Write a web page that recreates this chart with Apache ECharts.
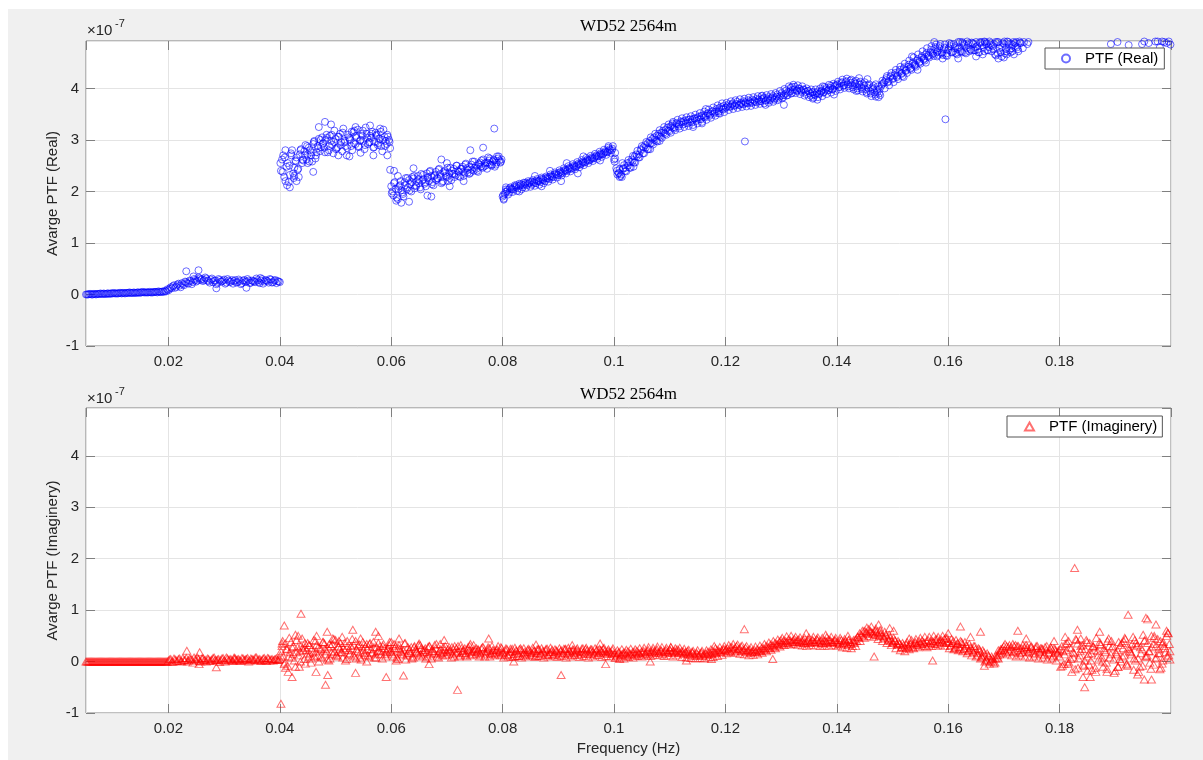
<!DOCTYPE html>
<html><head><meta charset="utf-8">
<script src="https://cdn.jsdelivr.net/npm/echarts@6/dist/echarts.min.js"></script>
<style>
html,body{margin:0;padding:0;background:#fff;}
#bg{position:absolute;left:8px;top:9px;width:1195px;height:751px;background:#f0f0f0;}
#chart{position:absolute;left:0;top:0;width:1203px;height:760px;}
</style>
</head><body><div id="bg"></div><div id="chart"></div>
<script>
// ---------------- data (values in units of 1e-7) ----------------
const STEP = 0.0004;           // frequency bin spacing (Hz)
const X_MIN = 0.0052, X_MAX = 0.2;
const Y_MIN = -1, Y_MAX_TOP = 4.92, Y_MAX_BOT = 4.93;
const yTickLabels = ['-1','0','1','2','3','4'];
const xTickLabels = ['0.02','0.04','0.06','0.08','0.1','0.12','0.14','0.16','0.18'];

const chunkStarts  = [0.0052, 0.0200, 0.0400, 0.0600, 0.0800, 0.1000, 0.1200, 0.1400, 0.1600, 0.1800];
const chunkStartsB = [0.0054, 0.0202, 0.0402, 0.0602, 0.0802, 0.1002, 0.1202, 0.1402, 0.1602, 0.1802];
const chunkStartsC = [0.0401, 0.0601, 0.0801, 0.1001, 0.1201, 0.1401, 0.1601, 0.1801];

// Real part, one array per frequency chunk (grid A)
const real005 = [0.00,0.00,0.01,0.00,0.01,0.01,0.01,0.01,0.02,0.01,0.02,0.02,0.02,0.02,0.02,0.03,0.02,0.03,0.03,0.03,0.03,0.03,0.03,0.04,0.03,0.04,0.04,0.04,0.04,0.04,0.04,0.05,0.04,0.05,0.05,0.05,0.06];
const real020 = [0.08,0.14,0.16,0.13,0.19,0.17,0.22,0.18,0.24,0.21,0.26,0.24,0.28,0.27,0.31,0.30,0.28,0.31,0.26,0.29,0.24,0.27,0.22,0.28,0.25,0.29,0.23,0.27,0.25,0.21,0.28,0.24,0.26,0.22,0.28,0.25,0.27,0.23,0.26,0.24,0.28,0.22,0.30,0.25,0.27,0.23,0.29,0.24,0.28,0.26];
const real040 = [0.24,2.62,2.28,2.48,2.18,2.74,2.35,2.60,2.42,2.72,2.55,2.78,2.62,2.85,2.70,2.92,2.64,2.88,2.78,3.05,2.85,3.10,2.80,2.98,2.74,3.02,2.86,3.12,2.78,2.95,2.70,3.05,2.88,3.15,2.92,3.20,2.98,3.08,2.82,3.12,2.95,3.04,2.85,3.14,2.90,3.02,2.78,3.06,2.92,3.00];
const real060 = [2.10,1.92,2.05,1.85,2.12,1.98,2.18,2.04,2.22,2.00,2.25,2.12,2.30,2.08,2.22,2.15,2.35,2.20,2.30,2.12,2.38,2.25,2.34,2.18,2.40,2.28,2.36,2.22,2.44,2.32,2.40,2.28,2.48,2.36,2.45,2.34,2.52,2.40,2.50,2.38,2.56,2.46,2.54,2.44,2.60,2.50,2.62,2.52,2.64,2.56];
const real080 = [1.90,1.95,2.00,1.98,2.05,2.04,2.08,2.06,2.12,2.08,2.14,2.12,2.16,2.13,2.18,2.16,2.20,2.18,2.24,2.20,2.26,2.24,2.30,2.28,2.34,2.32,2.38,2.36,2.42,2.40,2.46,2.44,2.50,2.48,2.54,2.52,2.58,2.56,2.62,2.60,2.66,2.64,2.70,2.68,2.74,2.72,2.78,2.76,2.82,2.80];
const real100 = [2.62,2.45,2.36,2.30,2.44,2.40,2.55,2.46,2.62,2.56,2.72,2.66,2.82,2.74,2.90,2.82,2.98,2.94,3.05,2.98,3.12,3.06,3.18,3.12,3.24,3.17,3.28,3.22,3.33,3.26,3.36,3.30,3.38,3.32,3.40,3.34,3.42,3.37,3.45,3.40,3.48,3.44,3.52,3.47,3.56,3.51,3.60,3.55,3.64,3.59];
const real120 = [3.62,3.66,3.64,3.69,3.66,3.70,3.68,3.72,3.69,3.73,3.71,3.75,3.72,3.76,3.73,3.78,3.75,3.80,3.76,3.79,3.77,3.82,3.78,3.84,3.80,3.86,3.83,3.90,3.87,3.94,3.91,3.98,3.95,4.00,3.96,3.98,3.93,3.95,3.90,3.92,3.88,3.91,3.89,3.94,3.92,3.98,3.96,4.01,3.98,4.04];
const real140 = [4.06,4.02,4.10,4.05,4.12,4.08,4.15,4.06,4.12,4.04,4.10,4.02,4.08,3.98,4.06,3.94,4.02,3.92,3.98,3.90,4.05,4.10,4.16,4.12,4.22,4.18,4.26,4.22,4.32,4.28,4.38,4.34,4.42,4.38,4.48,4.44,4.54,4.50,4.60,4.56,4.66,4.62,4.70,4.66,4.76,4.70,4.78,4.68,4.76,4.64];
const real160 = [4.74,4.82,4.70,4.78,4.66,4.80,4.72,4.86,4.68,4.84,4.76,4.88,4.74,4.82,4.70,4.90,4.80,4.86,4.74,4.88,4.82,4.66,4.90,4.78,4.62,4.86,4.76,4.90,4.70,4.84,4.88,4.80,4.91,null,4.90,null,4.90,null,null,null,null,null,null,null,null,null,null,null,null,null];
const real180 = [null,null,null,null,null,null,null,null,null,null,null,null,null,null,null,null,null,null,null,null,null,null,null,4.86,null,null,4.90,null,null,null,null,4.84,null,null,null,null,null,4.86,4.91,null,null,null,null,4.91,4.91,null,4.91,4.90,4.88,4.91];

// Real part, interleaved bins (grid B, offset by half a step)
const real005b = [0.00,0.01,0.00,0.01,0.00,0.01,0.02,0.01,0.01,0.02,0.01,0.02,0.03,0.02,0.02,0.03,0.03,0.02,0.03,0.04,0.03,0.04,0.03,0.04,0.04,0.05,0.04,0.04,0.05,0.04,0.05,0.05,0.06,0.05,0.06,0.07,0.10];
const real020b = [0.11,0.12,0.18,0.15,0.21,0.14,0.20,0.25,0.22,0.27,0.20,0.30,0.25,0.33,0.28,0.26,0.33,0.27,0.23,0.31,0.27,0.20,0.30,0.25,0.27,0.21,0.30,0.24,0.28,0.26,0.23,0.29,0.20,0.27,0.24,0.30,0.22,0.27,0.25,0.31,0.24,0.27,0.21,0.28,0.26,0.30,0.23,0.27,0.22,0.25];
const real040b = [2.40,2.70,2.20,2.55,2.32,2.80,2.46,2.66,2.28,2.82,2.60,2.90,2.72,2.80,2.58,2.98,2.76,3.02,2.86,2.94,3.00,2.76,3.08,2.90,3.18,2.84,3.06,2.96,3.22,2.88,3.10,3.00,2.80,3.18,3.04,2.86,3.12,2.98,3.24,2.92,3.08,3.16,2.96,3.10,3.02,2.88,3.20,2.98,3.06,2.84];
const real060b = [2.00,2.18,1.88,2.10,2.02,1.90,2.26,2.08,2.14,2.28,2.06,2.20,2.16,2.34,2.24,2.10,2.28,2.40,2.18,2.32,2.26,2.44,2.16,2.38,2.30,2.20,2.46,2.34,2.28,2.50,2.38,2.44,2.30,2.54,2.42,2.36,2.58,2.46,2.40,2.52,2.60,2.48,2.56,2.66,2.52,2.58,2.48,2.68,2.60,2.62];
const real080b = [1.86,2.04,1.94,2.08,1.99,2.12,2.01,2.15,2.04,2.17,2.07,2.20,2.09,2.22,2.11,2.24,2.13,2.27,2.16,2.29,2.19,2.33,2.23,2.37,2.27,2.41,2.31,2.45,2.35,2.49,2.39,2.53,2.43,2.57,2.47,2.61,2.51,2.65,2.55,2.69,2.59,2.73,2.63,2.77,2.67,2.81,2.71,2.85,2.75,2.88];
const real100b = [2.64,2.33,2.43,2.28,2.51,2.39,2.61,2.46,2.69,2.56,2.79,2.66,2.88,2.74,2.96,2.82,3.05,2.91,3.12,2.97,3.19,3.04,3.25,3.10,3.30,3.14,3.35,3.19,3.39,3.22,3.42,3.25,3.44,3.27,3.46,3.29,3.49,3.32,3.52,3.35,3.55,3.39,3.59,3.43,3.63,3.47,3.67,3.51,3.71,3.54];
const real120b = [3.72,3.58,3.75,3.60,3.77,3.62,3.79,3.64,3.80,3.65,3.82,3.66,3.83,3.68,3.85,3.70,3.86,3.71,3.87,3.72,3.89,3.74,3.91,3.77,3.95,3.81,3.99,3.86,4.04,3.90,4.07,3.91,4.06,3.89,4.04,3.86,4.00,3.83,3.98,3.82,3.98,3.83,4.00,3.85,4.03,3.89,4.07,3.92,4.09,3.95];
const real140b = [4.13,3.98,4.17,4.01,4.19,4.00,4.17,3.98,4.15,3.96,4.13,3.94,4.12,3.90,4.08,3.85,4.05,3.84,4.04,3.87,4.15,4.00,4.24,4.06,4.30,4.12,4.36,4.18,4.42,4.24,4.48,4.30,4.54,4.36,4.60,4.42,4.66,4.48,4.72,4.54,4.78,4.60,4.82,4.63,4.85,4.65,4.86,4.65,4.85,4.63];
const real160b = [4.88,4.70,4.86,4.68,4.90,4.72,4.88,4.70,4.91,4.72,4.89,4.74,4.90,4.70,4.88,4.66,4.90,4.74,4.91,4.72,4.86,4.64,4.90,4.70,4.88,4.68,4.91,4.74,4.86,4.66,4.90,4.72,4.88,4.78,null,4.86,null,null,null,null,null,null,null,null,null,null,null,null,null,null];

// Real part, third interleave (grid C, offset by a quarter step)
const real040c = [2.55,2.38,2.66,2.12,2.50,2.70,2.26,2.58,2.44,2.80,2.62,2.70,2.88,2.58,2.76,2.96,2.70,2.84,3.00,2.92,2.76,3.04,2.88,3.10,2.96,2.82,3.06,2.90,3.14,2.98,2.84,3.02,3.16,2.94,3.08,2.88,3.00,3.18,2.90,3.04,2.96,3.12,2.86,3.08,2.94,3.16,3.00,2.88,3.10,2.96];
const real060c = [1.96,2.16,1.82,2.04,2.20,1.95,2.12,2.26,2.02,2.18,2.30,2.10,2.24,2.04,2.32,2.18,2.26,2.38,2.14,2.30,2.22,2.42,2.28,2.20,2.36,2.46,2.26,2.40,2.34,2.50,2.30,2.44,2.38,2.52,2.36,2.48,2.42,2.58,2.44,2.54,2.48,2.62,2.50,2.56,2.64,2.52,2.60,2.56,2.68,2.58];
const real080c = [1.93,1.99,2.03,2.06,2.04,2.09,2.12,2.10,2.14,2.12,2.17,2.15,2.18,2.19,2.16,2.21,2.20,2.24,2.22,2.26,2.25,2.29,2.28,2.33,2.32,2.36,2.35,2.39,2.40,2.43,2.44,2.46,2.48,2.50,2.52,2.54,2.56,2.58,2.60,2.62,2.64,2.66,2.68,2.70,2.72,2.74,2.76,2.78,2.80,2.83];
const real100c = [2.58,2.40,2.35,2.33,2.45,2.46,2.50,2.57,2.58,2.68,2.68,2.72,2.80,2.86,2.85,2.94,2.93,3.02,3.00,3.08,3.08,3.14,3.14,3.20,3.18,3.26,3.24,3.25,3.31,3.30,3.34,3.36,3.33,3.39,3.35,3.40,3.41,3.43,3.40,3.47,3.45,3.47,3.51,3.50,3.55,3.54,3.56,3.62,3.60,3.66];
const real120c = [3.63,3.69,3.65,3.71,3.67,3.74,3.68,3.70,3.75,3.71,3.77,3.72,3.78,3.74,3.80,3.75,3.79,3.82,3.77,3.83,3.80,3.85,3.81,3.88,3.84,3.91,3.87,3.96,3.93,4.01,3.97,4.03,3.96,3.99,3.93,3.97,3.89,3.95,3.86,3.93,3.87,3.94,3.90,3.96,3.93,4.01,3.97,4.05,3.99,4.06];
const real140c = [4.08,4.03,4.12,4.06,4.14,4.04,4.11,4.02,4.09,4.00,4.07,3.99,4.05,3.93,4.00,3.90,3.99,3.88,3.93,3.99,4.08,4.12,4.20,4.14,4.25,4.20,4.30,4.25,4.36,4.30,4.41,4.36,4.46,4.40,4.51,4.46,4.57,4.52,4.63,4.58,4.69,4.64,4.75,4.68,4.80,4.72,4.82,4.70,4.79,4.68];
const real160c = [4.78,4.86,4.72,4.82,4.76,4.90,4.70,4.84,4.78,4.88,4.74,4.86,4.80,4.76,4.90,4.84,4.72,4.88,4.80,4.84,4.76,4.90,4.68,4.84,4.80,4.91,4.72,4.86,4.78,4.90,4.82,4.76,4.88];

const realExtraFreq = [0.0232,0.0254,0.0286,0.0340,0.0365,0.0245,0.0418,0.0426,0.0460,0.0470,0.0481,0.0492,0.0536,0.0562,0.0580,0.0593,0.0598,0.0410,0.0430,0.0450,0.0505,0.0525,0.0545,0.0568,0.0605,0.0612,0.0618,0.0632,0.0640,0.0665,0.0672,0.0690,0.0705,0.0742,0.0765,0.0785,0.0700,0.0730,0.0802,0.0806,0.0830,0.0858,0.0870,0.0885,0.0905,0.0915,0.0935,0.0945,0.0975,0.0990,0.1002,0.1010,0.1015,0.1035,0.1065,0.1082,0.1105,0.1142,0.1158,0.1165,0.1188,0.1235,0.1305,0.1357,0.1365,0.1395,0.1375,0.1320,0.1265,0.1272,0.1475,0.1470,0.1455,0.1440,0.1520,0.1545,0.1535,0.1560,0.1575,0.1580,0.1595,0.1590,0.1435,0.1618,0.1650,0.1690,0.1700,0.1705,0.1715,0.1625,0.1665,0.1999,0.1980,0.1960];
const realExtraVal  = [0.45,0.47,0.12,0.13,0.32,0.35,2.08,2.30,2.38,3.25,3.35,3.30,3.25,3.28,3.22,2.70,2.42,2.80,2.20,2.55,2.70,2.68,2.75,2.70,2.40,2.30,1.78,1.80,2.45,1.92,1.90,2.62,2.10,2.80,2.85,3.22,2.55,2.20,1.84,2.08,2.00,2.30,2.10,2.40,2.20,2.55,2.35,2.68,2.60,2.88,2.75,2.28,2.55,2.48,2.82,2.98,3.32,3.25,3.32,3.60,3.52,2.97,3.68,3.80,3.78,3.88,4.04,4.03,3.85,3.68,3.83,4.08,4.18,4.20,4.22,4.36,4.62,4.50,4.90,4.62,3.40,4.58,3.95,4.58,4.62,4.58,4.60,4.66,4.72,4.90,4.91,4.85,4.80,4.88];

// Imaginary part (grid A)
const imag005 = [0,0,0,0,0,0,0,0,0,0,0,0,0,0,0,0,0,0,0,0,0,0,0,0,0,0,0,0,0,0,0,0,0,0,0,0,0];
const imag020 = [0.02,0.05,-0.01,0.04,0.01,0.06,0.00,0.03,0.07,0.02,0.05,-0.02,0.04,0.08,0.01,0.06,0.03,0.00,0.05,0.02,0.07,0.03,0.04,-0.01,0.06,0.02,0.08,0.03,0.05,0.01,0.06,0.04,0.02,0.07,0.03,0.05,0.00,0.06,0.04,0.08,0.02,0.05,0.03,0.07,0.01,0.06,0.04,0.02,0.05,0.03];
const imag040 = [0.05,0.30,-0.05,0.25,0.10,0.38,0.15,-0.10,0.28,0.20,0.45,0.05,0.22,0.32,-0.02,0.18,0.40,0.12,0.26,0.08,0.35,0.20,0.02,0.30,0.15,0.42,0.10,0.25,0.18,0.36,0.05,0.22,0.30,0.12,0.40,0.20,0.08,0.28,0.16,0.34,0.10,0.24,0.38,0.14,0.20,0.30,0.06,0.26,0.18,0.32];
const imag060 = [0.22,0.10,0.30,0.05,0.25,0.15,0.35,0.12,0.20,0.28,0.08,0.24,0.16,0.32,0.10,0.22,0.18,0.30,0.06,0.20,0.26,0.14,0.34,0.12,0.22,0.18,0.28,0.08,0.24,0.16,0.30,0.12,0.20,0.26,0.10,0.22,0.18,0.32,0.14,0.24,0.16,0.28,0.10,0.20,0.26,0.14,0.22,0.18,0.30,0.12];
const imag080 = [0.18,0.12,0.24,0.15,0.20,0.10,0.22,0.16,0.26,0.12,0.19,0.14,0.23,0.17,0.20,0.11,0.24,0.16,0.21,0.13,0.25,0.15,0.19,0.12,0.22,0.17,0.20,0.14,0.24,0.16,0.21,0.13,0.23,0.18,0.20,0.15,0.26,0.16,0.22,0.14,0.24,0.17,0.20,0.13,0.22,0.18,0.21,0.15,0.19,0.16];
const imag100 = [0.14,0.10,0.17,0.12,0.15,0.18,0.11,0.16,0.13,0.19,0.14,0.17,0.12,0.18,0.15,0.20,0.14,0.18,0.16,0.21,0.17,0.22,0.15,0.20,0.18,0.23,0.17,0.21,0.19,0.22,0.16,0.20,0.18,0.21,0.15,0.19,0.14,0.17,0.12,0.16,0.11,0.15,0.13,0.17,0.14,0.19,0.16,0.21,0.18,0.23];
const imag120 = [0.22,0.26,0.20,0.28,0.24,0.30,0.25,0.29,0.22,0.27,0.21,0.24,0.19,0.23,0.18,0.22,0.20,0.26,0.23,0.29,0.26,0.32,0.28,0.34,0.31,0.37,0.33,0.40,0.36,0.42,0.38,0.44,0.39,0.43,0.37,0.41,0.35,0.40,0.36,0.42,0.38,0.44,0.37,0.41,0.35,0.40,0.36,0.42,0.38,0.41];
const imag140 = [0.38,0.34,0.42,0.36,0.40,0.32,0.38,0.30,0.36,0.40,0.46,0.52,0.48,0.58,0.54,0.60,0.56,0.52,0.58,0.50,0.55,0.48,0.52,0.44,0.46,0.38,0.42,0.34,0.36,0.28,0.32,0.26,0.30,0.34,0.28,0.36,0.32,0.40,0.34,0.38,0.30,0.42,0.36,0.40,0.34,0.44,0.38,0.42,0.36,0.46];
const imag160 = [0.40,0.30,0.36,0.26,0.34,0.28,0.38,0.24,0.32,0.20,0.28,0.22,0.30,0.16,0.24,0.10,0.18,0.04,0.12,0.00,0.06,-0.02,0.08,0.14,0.22,0.30,0.18,0.28,0.24,0.34,0.20,0.30,0.16,0.26,0.22,0.32,0.18,0.28,0.24,0.14,0.30,0.20,0.26,0.12,0.22,0.18,0.28,0.10,0.24,0.16];
const imag180 = [0.10,0.30,-0.05,0.22,0.40,0.05,0.18,-0.15,0.35,0.12,0.25,-0.08,0.42,0.15,0.02,0.30,-0.12,0.20,0.38,0.08,0.26,-0.02,0.45,0.14,0.30,-0.18,0.22,0.05,0.36,0.12,-0.06,0.28,0.18,0.48,0.02,0.32,-0.10,0.24,0.40,0.10,0.20,-0.14,0.34,0.06,0.44,0.16,-0.04,0.30,0.50,0.12];

// Imaginary part (grid B)
const imag005b = [0,0,0,0,0,0,0,0,0,0,0,0,0,0,0,0,0,0,0,0,0,0,0,0,0,0,0,0,0,0,0,0,0,0,0,0,0];
const imag020b = [0.04,0.00,0.06,0.02,0.05,0.01,0.07,0.03,0.00,0.06,0.04,0.08,0.02,0.05,0.00,0.07,0.03,0.06,0.01,0.04,0.08,0.02,0.05,0.03,0.07,0.00,0.06,0.04,0.02,0.08,0.03,0.05,0.01,0.06,0.04,0.07,0.02,0.05,0.03,0.08,0.04,0.01,0.06,0.03,0.07,0.02,0.05,0.04,0.06,0.03];
const imag040b = [0.20,0.10,0.35,-0.08,0.18,0.28,0.02,0.42,0.12,0.30,0.22,-0.04,0.36,0.16,0.26,0.10,0.32,0.00,0.24,0.38,0.14,0.28,0.06,0.34,0.20,0.12,0.40,0.18,0.26,0.02,0.30,0.16,0.44,0.10,0.24,0.34,0.04,0.22,0.30,0.12,0.36,0.18,0.08,0.28,0.22,0.14,0.34,0.10,0.26,0.20];
const imag060b = [0.14,0.26,0.08,0.32,0.18,0.22,0.04,0.28,0.16,0.10,0.30,0.20,0.12,0.26,0.18,0.06,0.28,0.14,0.24,0.32,0.10,0.20,0.16,0.28,0.12,0.24,0.20,0.14,0.30,0.18,0.10,0.26,0.22,0.16,0.28,0.12,0.20,0.24,0.18,0.10,0.26,0.20,0.14,0.28,0.16,0.22,0.12,0.24,0.20,0.26];
const imag080b = [0.08,0.26,0.10,0.25,0.09,0.27,0.11,0.24,0.08,0.26,0.10,0.25,0.12,0.27,0.09,0.24,0.11,0.26,0.08,0.25,0.10,0.27,0.12,0.24,0.09,0.26,0.11,0.25,0.08,0.27,0.10,0.24,0.12,0.26,0.09,0.25,0.11,0.27,0.08,0.24,0.10,0.26,0.12,0.25,0.09,0.27,0.11,0.24,0.10,0.26];
const imag100b = [0.07,0.22,0.08,0.24,0.06,0.23,0.09,0.25,0.08,0.24,0.11,0.26,0.10,0.27,0.12,0.28,0.11,0.27,0.13,0.29,0.12,0.28,0.11,0.27,0.12,0.28,0.10,0.26,0.12,0.27,0.09,0.25,0.08,0.23,0.07,0.21,0.06,0.22,0.07,0.21,0.06,0.22,0.08,0.24,0.09,0.26,0.11,0.28,0.13,0.30];
const imag120b = [0.16,0.32,0.18,0.34,0.17,0.33,0.15,0.31,0.14,0.30,0.12,0.28,0.13,0.29,0.14,0.31,0.17,0.34,0.20,0.37,0.23,0.40,0.26,0.43,0.29,0.46,0.32,0.49,0.33,0.50,0.34,0.48,0.32,0.47,0.31,0.46,0.30,0.47,0.32,0.48,0.31,0.47,0.30,0.46,0.31,0.47,0.30,0.48,0.32,0.46];
const imag140b = [0.30,0.46,0.28,0.44,0.27,0.43,0.26,0.42,0.30,0.48,0.40,0.60,0.46,0.66,0.50,0.68,0.48,0.64,0.44,0.62,0.40,0.58,0.36,0.52,0.32,0.46,0.26,0.40,0.22,0.36,0.20,0.38,0.24,0.42,0.26,0.44,0.28,0.46,0.30,0.48,0.28,0.48,0.30,0.50,0.30,0.48,0.32,0.50,0.30,0.46];
const imag160b = [0.26,0.44,0.24,0.42,0.22,0.40,0.20,0.38,0.16,0.34,0.12,0.30,0.10,0.26,0.06,0.22,0.00,0.16,-0.04,0.10,-0.04,0.12,0.06,0.24,0.16,0.34,0.14,0.32,0.12,0.30,0.10,0.30,0.12,0.32,0.10,0.28,0.08,0.28,0.10,0.30,0.06,0.26,0.08,0.28,0.04,0.24,0.06,0.26,0.02,0.22];
const imag180b = [-0.10,0.20,0.34,0.00,0.28,-0.20,0.16,0.42,0.06,0.30,-0.06,0.24,0.10,0.36,-0.16,0.22,0.46,0.04,0.32,-0.10,0.18,0.40,0.08,0.28,-0.22,0.14,0.38,0.00,0.26,0.44,-0.08,0.20,0.34,0.06,0.30,-0.20,0.16,0.52,0.10,0.36,-0.02,0.28,0.46,0.08,0.24,-0.12,0.38,0.18,0.56,0.04];

// Imaginary part (grid C)
const imag040c = [0.12,0.40,-0.02,0.24,0.46,0.08,0.30,0.18,0.50,0.00,0.26,0.36,0.14,0.32,0.06,0.42,0.20,0.28,0.10,0.38,0.24,0.04,0.34,0.18,0.44,0.12,0.28,0.36,0.08,0.22,0.40,0.14,0.26,0.32,0.06,0.30,0.18,0.38,0.12,0.24,0.34,0.16,0.28,0.08,0.36,0.20,0.30,0.14,0.24,0.38];
const imag060c = [0.18,0.34,0.02,0.26,0.20,0.12,0.36,0.16,0.24,0.06,0.28,0.18,0.32,0.14,0.22,0.26,0.10,0.30,0.20,0.16,0.34,0.08,0.24,0.18,0.30,0.14,0.22,0.28,0.10,0.26,0.20,0.32,0.16,0.12,0.24,0.30,0.14,0.20,0.26,0.22,0.12,0.28,0.18,0.24,0.10,0.30,0.16,0.22,0.14,0.28];
const imag080c = [0.16,0.22,0.13,0.19,0.25,0.15,0.20,0.11,0.23,0.17,0.14,0.22,0.18,0.12,0.21,0.16,0.24,0.14,0.19,0.22,0.13,0.18,0.23,0.15,0.20,0.12,0.22,0.17,0.25,0.14,0.19,0.21,0.16,0.23,0.13,0.20,0.18,0.24,0.15,0.21,0.19,0.14,0.23,0.17,0.20,0.25,0.16,0.21,0.18,0.22];
const imag100c = [0.16,0.12,0.19,0.14,0.17,0.13,0.20,0.15,0.18,0.14,0.21,0.16,0.19,0.21,0.17,0.23,0.19,0.22,0.20,0.24,0.18,0.21,0.19,0.23,0.17,0.22,0.20,0.18,0.24,0.17,0.20,0.15,0.18,0.16,0.13,0.17,0.11,0.15,0.13,0.18,0.14,0.16,0.19,0.15,0.21,0.17,0.23,0.19,0.22,0.25];
const imag120c = [0.24,0.20,0.28,0.23,0.27,0.21,0.25,0.20,0.23,0.18,0.22,0.17,0.21,0.19,0.24,0.21,0.27,0.24,0.30,0.27,0.33,0.30,0.36,0.33,0.39,0.35,0.41,0.37,0.43,0.39,0.41,0.37,0.42,0.38,0.40,0.36,0.39,0.43,0.38,0.41,0.37,0.42,0.39,0.36,0.41,0.38,0.43,0.39,0.37,0.42];
const imag140c = [0.36,0.41,0.33,0.39,0.35,0.42,0.34,0.38,0.43,0.48,0.55,0.50,0.60,0.56,0.63,0.58,0.54,0.60,0.52,0.57,0.50,0.46,0.50,0.42,0.40,0.36,0.40,0.32,0.34,0.29,0.27,0.33,0.28,0.36,0.31,0.38,0.33,0.36,0.41,0.35,0.39,0.33,0.40,0.37,0.43,0.35,0.41,0.39,0.44,0.38];
const imag160c = [0.36,0.32,0.40,0.28,0.36,0.24,0.34,0.26,0.30,0.22,0.26,0.18,0.24,0.12,0.20,0.08,0.12,0.02,0.10,0.04,0.00,0.06,0.12,0.20,0.26,0.22,0.30,0.20,0.28,0.18,0.32,0.22,0.26,0.18,0.28,0.24,0.20,0.30,0.16,0.26,0.22,0.18,0.24,0.14,0.30,0.16,0.26,0.12,0.20,0.18];
const imag180c = [0.24,-0.08,0.14,0.36,-0.02,0.26,0.08,0.44,-0.12,0.20,0.32,0.02,0.38,-0.06,0.16,0.28,-0.20,0.12,0.34,0.00,0.22,-0.14,0.30,0.40,0.04,0.18,-0.10,0.32,0.10,0.46,-0.04,0.24,0.14,-0.16,0.36,0.06,0.28,-0.08,0.42,0.12,0.20,0.50,-0.06,0.30,0.16,0.40,0.02,0.26,0.10,0.34];

const imagExtraFreq = [0.0233,0.0256,0.0286,0.0255,0.0318,0.0402,0.0408,0.0410,0.0404,0.0415,0.0422,0.0428,0.0435,0.0438,0.0445,0.0452,0.0465,0.0466,0.0482,0.0485,0.0486,0.0495,0.0505,0.0512,0.0531,0.0536,0.0545,0.0556,0.0572,0.0577,0.0591,0.0600,0.0614,0.0622,0.0650,0.0668,0.0695,0.0719,0.0742,0.0775,0.0820,0.0860,0.0905,0.0925,0.0975,0.0985,0.1010,0.1065,0.1102,0.1130,0.1175,0.1180,0.1234,0.1285,0.1300,0.1345,0.1380,0.1420,0.1467,0.1475,0.1495,0.1502,0.1530,0.1572,0.1600,0.1622,0.1640,0.1658,0.1665,0.1690,0.1725,0.1740,0.1755,0.1790,0.1810,0.1815,0.1827,0.1832,0.1838,0.1842,0.1845,0.1850,0.1855,0.1860,0.1872,0.1885,0.1905,0.1915,0.1923,0.1935,0.1940,0.1952,0.1955,0.1958,0.1965,0.1970,0.1973,0.1980,0.1985,0.1992,0.1995,0.1998];
const imagExtraVal  = [0.21,0.18,-0.11,-0.05,0.06,-0.82,0.70,-0.12,0.35,-0.20,-0.30,0.52,-0.10,0.93,0.28,0.10,-0.20,0.50,-0.45,0.58,-0.26,0.45,0.30,0.48,0.62,-0.22,0.45,0.00,0.58,0.50,-0.30,0.38,0.45,-0.27,0.35,-0.05,0.42,-0.55,0.34,0.45,0.00,0.33,-0.26,0.32,0.35,-0.05,0.05,0.00,0.28,0.02,0.05,0.30,0.63,0.05,0.42,0.55,0.52,0.50,0.10,0.72,0.65,0.60,0.45,0.02,0.55,0.68,0.48,0.58,-0.08,0.22,0.60,0.45,-1.02,0.40,0.48,-0.05,1.82,0.62,0.45,-0.30,-0.50,-0.18,-0.30,0.30,0.58,-0.20,-0.10,0.40,0.91,0.42,-0.25,-0.35,0.85,0.82,-0.35,0.50,0.72,-0.15,0.35,0.60,0.55,0.20];

const realChunks  = [real005, real020, real040, real060, real080, real100, real120, real140, real160, real180];
const realChunksB = [real005b, real020b, real040b, real060b, real080b, real100b, real120b, real140b, real160b];
const realChunksC = [real040c, real060c, real080c, real100c, real120c, real140c, real160c];
const imagChunks  = [imag005, imag020, imag040, imag060, imag080, imag100, imag120, imag140, imag160, imag180];
const imagChunksB = [imag005b, imag020b, imag040b, imag060b, imag080b, imag100b, imag120b, imag140b, imag160b, imag180b];
const imagChunksC = [imag040c, imag060c, imag080c, imag100c, imag120c, imag140c, imag160c, imag180c];

function addChunks(out, chunks, starts) {
  chunks.forEach((arr, c) => {
    arr.forEach((v, j) => {
      const f = +(starts[c] + j * STEP).toFixed(4);
      if (v !== null && f <= X_MAX) out.push([f, v]);
    });
  });
}
function buildSeries(chunksA, chunksB, chunksC, extraF, extraV) {
  const out = [];
  addChunks(out, chunksA, chunkStarts);
  addChunks(out, chunksB, chunkStartsB);
  addChunks(out, chunksC, chunkStartsC);
  extraF.forEach((f, i) => out.push([f, extraV[i]]));
  return out;
}
const realData = buildSeries(realChunks, realChunksB, realChunksC, realExtraFreq, realExtraVal);
const imagData = buildSeries(imagChunks, imagChunksB, imagChunksC, imagExtraFreq, imagExtraVal);

// ---------------- chart ----------------
const SANS = '"Liberation Sans", Arial, Helvetica, sans-serif';
const SERIF = '"Liberation Serif", "DejaVu Serif", serif';
const AX = '#808080', TXT = '#262626', GRIDC = '#e4e4e4';

const G = [
  {left: 86, top: 41, width: 1085, height: 305},
  {left: 86, top: 408, width: 1085, height: 305}
];

function xAx(gi, pos, main) {
  return {
    type: 'value', gridIndex: gi, position: pos, min: X_MIN, max: X_MAX, splitNumber: 10,
    axisLine: {show: false, onZero: false},
    axisTick: {show: true, inside: true, length: 9, lineStyle: {color: AX}},
    axisLabel: {show: main, showMinLabel: false, showMaxLabel: false, color: TXT, fontSize: 15, fontFamily: SANS, margin: 8,
      formatter: v => { const s = xTickLabels.find(t => Math.abs(parseFloat(t) - v) < 1e-9); return s || ''; }},
    splitLine: {show: main, lineStyle: {color: GRIDC, width: 1}}
  };
}
function yAx(gi, pos, main, ymax) {
  return {
    type: 'value', gridIndex: gi, position: pos, min: Y_MIN, max: ymax, interval: 1,
    axisLine: {show: false, onZero: false},
    axisTick: {show: true, inside: true, length: 9, lineStyle: {color: AX}},
    axisLabel: {show: main, showMaxLabel: false, color: TXT, fontSize: 15, fontFamily: SANS, margin: 7,
      formatter: v => { const s = yTickLabels.find(t => Math.abs(parseFloat(t) - v) < 1e-9); return s || ''; }},
    splitLine: {show: main, lineStyle: {color: GRIDC, width: 1}}
  };
}

const chart = echarts.init(document.getElementById('chart'), null, {renderer: 'canvas'});
const option = {
  animation: false,
  backgroundColor: 'transparent',
  grid: G.map(g => Object.assign({show: true, backgroundColor: '#fff', borderColor: AX, borderWidth: 1, containLabel: false}, g)),
  xAxis: [xAx(0, 'bottom', true), xAx(0, 'top', false), xAx(1, 'bottom', true), xAx(1, 'top', false)],
  yAxis: [yAx(0, 'left', true, Y_MAX_TOP), yAx(0, 'right', false, Y_MAX_TOP), yAx(1, 'left', true, Y_MAX_BOT), yAx(1, 'right', false, Y_MAX_BOT)],
  legend: [
    {data: ['PTF (Real)'], left: 1045, top: 48, orient: 'vertical', padding: [3, 6, 3, 16], itemWidth: 8, itemHeight: 8,
     backgroundColor: '#fff', borderColor: '#555', borderWidth: 1, selectedMode: false,
     textStyle: {fontSize: 15, color: '#000', fontFamily: SANS, padding: [0, 0, 0, 10]}},
    {data: ['PTF (Imaginery)'], left: 1007, top: 416, orient: 'vertical', padding: [3, 5, 3, 17], itemWidth: 9, itemHeight: 8,
     backgroundColor: '#fff', borderColor: '#555', borderWidth: 1, selectedMode: false,
     textStyle: {fontSize: 15, color: '#000', fontFamily: SANS, padding: [0, 0, 0, 10]}}
  ],
  series: [
    {name: 'PTF (Real)', type: 'scatter', xAxisIndex: 0, yAxisIndex: 0, data: realData, symbol: 'circle', symbolSize: 7,
     itemStyle: {color: 'rgba(0,0,255,0)', borderColor: 'rgba(0,0,255,0.72)', borderWidth: 1}, emphasis: {disabled: true}, clip: true},
    {name: 'PTF (Imaginery)', type: 'scatter', xAxisIndex: 2, yAxisIndex: 2, data: imagData, symbol: 'triangle', symbolSize: [8, 7],
     itemStyle: {color: 'rgba(255,0,0,0)', borderColor: 'rgba(255,0,0,0.7)', borderWidth: 1}, emphasis: {disabled: true}, clip: true}
  ],
  graphic: [
    {type: 'text', x: 628.5, y: 27, style: {text: 'WD52 2564m', font: '17px ' + SERIF, fill: '#000', align: 'center', verticalAlign: 'middle'}},
    {type: 'text', x: 628.5, y: 395, style: {text: 'WD52 2564m', font: '17px ' + SERIF, fill: '#000', align: 'center', verticalAlign: 'middle'}},
    {type: 'text', x: 87, y: 31, style: {text: '×10', font: '15px ' + SANS, fill: TXT, align: 'left', verticalAlign: 'middle'}},
    {type: 'text', x: 115, y: 24, style: {text: '-7', font: '11px ' + SANS, fill: TXT, align: 'left', verticalAlign: 'middle'}},
    {type: 'text', x: 87, y: 399, style: {text: '×10', font: '15px ' + SANS, fill: TXT, align: 'left', verticalAlign: 'middle'}},
    {type: 'text', x: 115, y: 392, style: {text: '-7', font: '11px ' + SANS, fill: TXT, align: 'left', verticalAlign: 'middle'}},
    {type: 'text', x: 53, y: 193.5, rotation: Math.PI / 2, style: {text: 'Avarge PTF (Real)', font: '15px ' + SANS, fill: TXT, align: 'center', verticalAlign: 'middle'}},
    {type: 'text', x: 53, y: 560.5, rotation: Math.PI / 2, style: {text: 'Avarge PTF (Imaginery)', font: '15px ' + SANS, fill: TXT, align: 'center', verticalAlign: 'middle'}},
    {type: 'text', x: 628.5, y: 749, style: {text: 'Frequency (Hz)', font: '15px ' + SANS, fill: TXT, align: 'center', verticalAlign: 'middle'}}
  ]
};
chart.setOption(option);
</script>
</body></html>
